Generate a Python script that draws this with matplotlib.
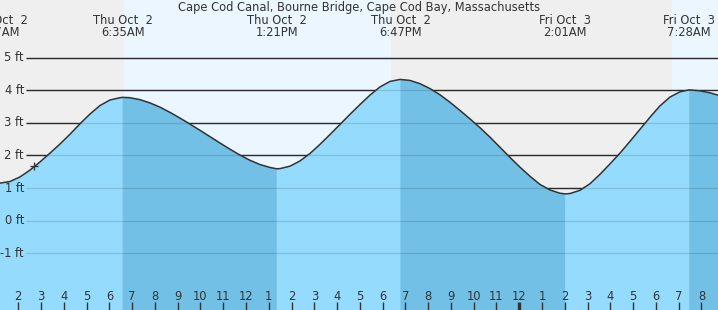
import matplotlib
matplotlib.use("Agg")
import matplotlib.pyplot as plt
import matplotlib.transforms as mtransforms
import numpy as np

title = "Cape Cod Canal, Bourne Bridge, Cape Cod Bay, Massachusetts"

# tide extremes, hours after midnight Thu Oct 2 / feet
event_hours = [1.117, 6.583, 13.35, 18.783, 26.017, 31.467]
event_heights = [1.14, 3.78, 1.59, 4.33, 0.82, 4.01]
event_days = ["Thu Oct  2", "Thu Oct  2", "Thu Oct  2", "Thu Oct  2", "Fri Oct  3", "Fri Oct  3"]
event_clock = ["1:07AM", "6:35AM", "1:21PM", "6:47PM", "2:01AM", "7:28AM"]

# heights
curve_hours = [1.196, 1.635, 2.075, 2.514, 2.953, 3.392, 3.831, 4.270, 4.710, 5.149,
               5.588, 6.027, 6.466, 6.906, 7.345, 7.784, 8.223, 8.662, 9.101, 9.541,
               9.980, 10.419, 10.858, 11.297, 11.736, 12.176, 12.615, 13.054, 13.493, 13.932,
               14.371, 14.811, 15.250, 15.689, 16.128, 16.567, 17.006, 17.446, 17.885, 18.324,
               18.763, 19.202, 19.641, 20.080, 20.520, 20.959, 21.398, 21.837, 22.276, 22.716,
               23.155, 23.594, 24.033, 24.472, 24.911, 25.351, 25.790, 26.229, 26.668, 27.107,
               27.547, 27.986, 28.425, 28.864, 29.303, 29.742, 30.182, 30.621, 31.060, 31.938,
               32.377, 32.729]
curve_heights = [1.15, 1.20, 1.34, 1.55, 1.80, 2.07, 2.35, 2.65, 2.97, 3.27,
                 3.53, 3.70, 3.77, 3.77, 3.71, 3.61, 3.48, 3.32, 3.145, 2.96,
                 2.77, 2.575, 2.38, 2.19, 2.01, 1.85, 1.72, 1.63, 1.595, 1.67,
                 1.83, 2.06, 2.34, 2.64, 2.95, 3.26, 3.56, 3.85, 4.10, 4.27,
                 4.33, 4.30, 4.20, 4.05, 3.86, 3.63, 3.38, 3.12, 2.85, 2.56,
                 2.25, 1.94, 1.64, 1.36, 1.11, 0.94, 0.84, 0.83, 0.93, 1.13,
                 1.42, 1.74, 2.07, 2.43, 2.80, 3.17, 3.52, 3.79, 3.95, 3.98,
                 3.92, 3.85]

now_hour = 2.703
now_height = 1.67

sunrise_hours = [6.64, 30.71]
sunset_hours = [18.37]

ft_levels = [-1, 0, 1, 2, 3, 4, 5]
hour_ticks = list(range(2, 33))

W, H = 718, 310
x0, x1 = 1.196, 32.73
y0, y1 = -2.742, 6.767

fig = plt.figure(figsize=(W / 100, H / 100), dpi=100)
ax = fig.add_axes([0, 0, 1, 1])
ax.set_xlim(x0, x1)
ax.set_ylim(y0, y1)
ax.set_axis_off()

# x in data, y in pixels from the top
tpx = mtransforms.blended_transform_factory(ax.transData, ax.transAxes)
def ypx(p):
    return 1 - p / H

night = "#efefef"
day = "#ebf6fe"
water = "#95dbfd"
water_dark = "#72c0e6"
ink = "#333333"

ax.axvspan(x0, sunrise_hours[0], color=night, lw=0, zorder=0)
ax.axvspan(sunrise_hours[0], sunset_hours[0], color=day, lw=0, zorder=0)
ax.axvspan(sunset_hours[0], sunrise_hours[1], color=night, lw=0, zorder=0)
ax.axvspan(sunrise_hours[1], x1, color=day, lw=0, zorder=0)

grid_start = (26 + 27.24) / 22.77
ax.hlines(ft_levels, grid_start, x1, color=ink, lw=1, zorder=1)

t = np.array(curve_hours + event_hours)
v = np.array(curve_heights + event_heights)
order = np.argsort(t)
t, v = t[order], v[order]

ax.fill_between(t, v, y0, color=water, lw=0, zorder=2)
ebb = np.zeros(len(t), bool)
highs = [event_hours[1], event_hours[3], event_hours[5]]
lows = [event_hours[2], event_hours[4], x1 + 1]
for a, b in zip(highs, lows):
    ebb |= (t >= a) & (t <= b)
ax.fill_between(t, v, y0, where=ebb, color=water_dark, lw=0, zorder=2)

# grid lines show faintly through the water
ax.hlines(ft_levels, grid_start, x1, color=(0, 0, 0, 0.12), lw=1, zorder=3)

ax.plot(t, v, color=ink, lw=1.1, zorder=4)
ax.plot([now_hour], [now_height], marker="+", ms=6, mew=0.9, color=ink, zorder=5)

for lv in ft_levels:
    ax.text(24 / W, lv, "%d ft" % lv, transform=mtransforms.blended_transform_factory(ax.transAxes, ax.transData),
            ha="right", va="center", fontsize=8.3, color=ink, zorder=6)

ax.text(0.5, ypx(11), title, transform=ax.transAxes, ha="center", va="baseline",
        fontsize=8.3, color=ink, zorder=6)
for hr, d, c in zip(event_hours, event_days, event_clock):
    ax.text(hr, ypx(24), d, transform=tpx, ha="center", va="baseline", fontsize=8.3, color=ink, zorder=6)
    ax.text(hr, ypx(36.5), c, transform=tpx, ha="center", va="baseline", fontsize=8.3, color=ink, zorder=6)

for hr in hour_ticks:
    lab = (hr - 1) % 12 + 1
    ax.text(hr, ypx(300), str(lab), transform=tpx, ha="center", va="baseline",
            fontsize=8.3, color=ink, zorder=6)
    ax.plot([hr, hr], [ypx(302), 0], transform=tpx, color=ink,
            lw=2.4 if hr % 24 == 0 else 1.0, solid_capstyle="butt", zorder=6)

fig.savefig("out.png", dpi=100)
